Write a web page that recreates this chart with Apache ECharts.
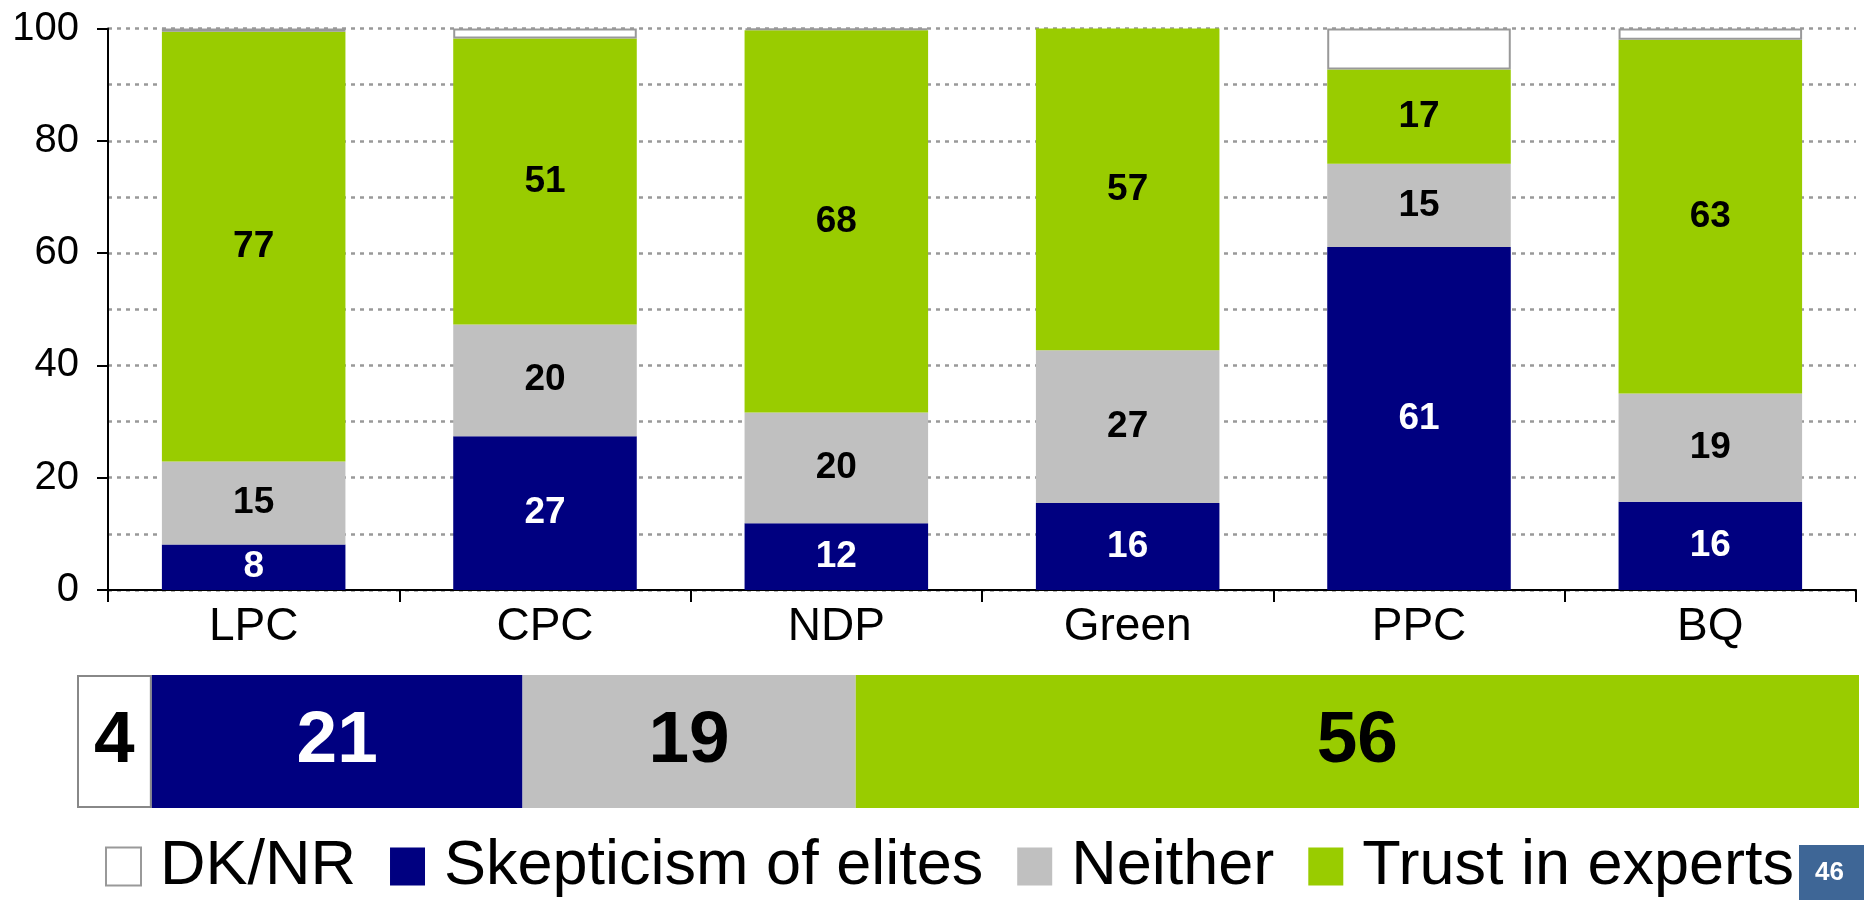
<!DOCTYPE html>
<html>
<head>
<meta charset="utf-8">
<script src="https://cdn.jsdelivr.net/npm/echarts@6/dist/echarts.min.js"></script>
<style>
  html, body { margin: 0; padding: 0; background: #fff; }
  #chart { width: 1864px; height: 900px; }
</style>
</head>
<body>
<div id="chart"></div>
<script>
// 各党数据 (%)
var parties = ['LPC', 'CPC', 'NDP', 'Green', 'PPC', 'BQ'];
var skeptic = [8.1, 27.4, 11.9, 15.5, 61.1, 15.7];
var neither = [14.8, 19.9, 19.7, 27.2, 14.8, 19.3];
var trust = [76.5, 50.9, 68.1, 57.3, 16.8, 63.0];
var dknr = [0.6, 1.8, 0.3, 0, 7.3, 2.0];
// 总体 (DK/NR, Skepticism, Neither, Trust)
var totalDk = [4.2];
var totalSkeptic = [20.8];
var totalNeither = [18.7];
var totalTrust = [56.3];
var yTicks = [0, 20, 40, 60, 80, 100];

var FONT = '"Liberation Sans", Arial, sans-serif';
var NAVY = '#000080', GREY = '#c0c0c0', GREEN = '#99cc00';

var chart = echarts.init(document.getElementById('chart'));

function round(p) { return Math.round(p.value); }

function topLabel(color) {
	return {
		show: true,
		position: 'inside',
		color: color,
		fontFamily: FONT,
		fontWeight: 'bold',
		fontSize: 37,
		formatter: round
	};
}

function bottomLabel(color) {
	return {
		show: true,
		position: 'inside',
		color: color,
		fontFamily: FONT,
		fontWeight: 'bold',
		fontSize: 73,
		formatter: round
	};
}

var option = {
	backgroundColor: '#fff',
	animation: false,
	textStyle: { fontFamily: FONT },
	legend: {
		data: ['DK/NR', 'Skepticism of elites', 'Neither', 'Trust in experts'],
		left: 100,
		top: 830,
		icon: 'rect',
		itemWidth: 35,
		itemHeight: 38,
		itemGap: 34,
		selectedMode: false,
		textStyle: {
			fontFamily: FONT,
			fontSize: 63,
			color: '#000',
			lineHeight: 38,
			padding: [0, 0, 0, 14]
		}
	},
	grid: [
		{ left: 108, right: 8, top: 28.5, height: 561.5, containLabel: false },
		{ left: 77, top: 675, width: 1782, height: 133, containLabel: false }
	],
	xAxis: [
		{
			type: 'category',
			gridIndex: 0,
			data: parties,
			axisLine: { lineStyle: { color: '#000', width: 2 } },
			axisTick: { show: true, length: 12, lineStyle: { color: '#000', width: 2 } },
			axisLabel: { color: '#000', fontSize: 46, fontFamily: FONT, margin: 14 }
		},
		{
			type: 'value',
			gridIndex: 1,
			min: 0,
			max: 100,
			show: false
		}
	],
	yAxis: [
		{
			type: 'value',
			gridIndex: 0,
			min: yTicks[0],
			max: yTicks[yTicks.length - 1],
			interval: 20,
			axisLine: { show: true, lineStyle: { color: '#000', width: 2 } },
			axisTick: { show: true, length: 11, lineStyle: { color: '#000', width: 2 } },
			axisLabel: { color: '#000', fontSize: 40, fontFamily: FONT, margin: 29 },
			splitLine: { show: true, lineStyle: { color: '#999', width: 2.5, type: [4, 5] } },
			minorTick: { show: false, splitNumber: 2 },
			minorSplitLine: { show: true, lineStyle: { color: '#999', width: 2.5, type: [4, 5] } }
		},
		{
			type: 'category',
			gridIndex: 1,
			data: ['Total'],
			show: false
		}
	],
	series: [
		{
			name: 'Skepticism of elites', type: 'bar', stack: 'party', barWidth: '63%',
			itemStyle: { color: NAVY },
			label: topLabel('#fff'),
			data: skeptic
		},
		{
			name: 'Neither', type: 'bar', stack: 'party',
			itemStyle: { color: GREY },
			label: topLabel('#000'),
			data: neither
		},
		{
			name: 'Trust in experts', type: 'bar', stack: 'party',
			itemStyle: { color: GREEN },
			label: topLabel('#000'),
			data: trust
		},
		{
			name: 'DK/NR', type: 'bar', stack: 'party',
			itemStyle: { color: '#fff', borderColor: '#999', borderWidth: 2 },
			label: { show: false },
			data: dknr.map(function(v) { return v || '-'; })
		},
		// 总体横条
		{
			name: 'DK/NR', type: 'bar', stack: 'total', xAxisIndex: 1, yAxisIndex: 1, barWidth: '100%',
			itemStyle: { color: '#fff', borderColor: '#888', borderWidth: 2 },
			label: bottomLabel('#000'),
			data: totalDk
		},
		{
			name: 'Skepticism of elites', type: 'bar', stack: 'total', xAxisIndex: 1, yAxisIndex: 1,
			itemStyle: { color: NAVY },
			label: bottomLabel('#fff'),
			data: totalSkeptic
		},
		{
			name: 'Neither', type: 'bar', stack: 'total', xAxisIndex: 1, yAxisIndex: 1,
			itemStyle: { color: GREY },
			label: bottomLabel('#000'),
			data: totalNeither
		},
		{
			name: 'Trust in experts', type: 'bar', stack: 'total', xAxisIndex: 1, yAxisIndex: 1,
			itemStyle: { color: GREEN },
			label: bottomLabel('#000'),
			data: totalTrust
		}
	],
	graphic: [
		{
			type: 'rect',
			left: 1799, top: 845,
			shape: { width: 65, height: 55 },
			style: { fill: '#3e6696' }
		},
		{
			type: 'text',
			left: 1815, top: 860,
			style: { text: '46', fill: '#fff', font: 'bold 26px ' + FONT }
		}
	]
};

chart.setOption(option);
window.onresize = chart.resize;
</script>
</body>
</html>
